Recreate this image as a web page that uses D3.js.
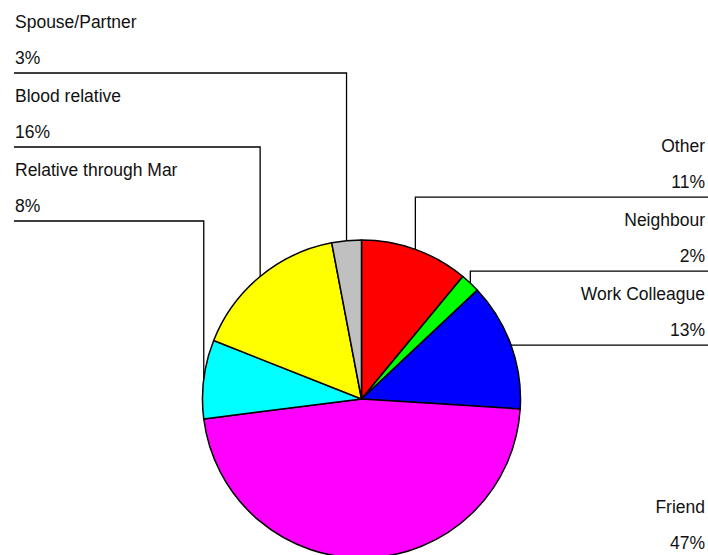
<!DOCTYPE html>
<html>
<head>
<meta charset="utf-8">
<script src="https://cdn.jsdelivr.net/npm/d3@7/dist/d3.min.js"></script>
<style>
  html, body { margin: 0; padding: 0; background: #fff; }
  svg { display: block; }
  text { font-family: "Liberation Sans", Arial, sans-serif; font-size: 17.5px; fill: #111; }
</style>
</head>
<body>
<svg id="chart" width="708" height="555"></svg>
<script>
// Relationship categories, in clockwise order from 12 o'clock
const categories = ["Other", "Neighbour", "Work Colleague", "Friend", "Relative through Mar", "Blood relative", "Spouse/Partner"];
const percentages = [11, 2, 13, 47, 8, 16, 3];
const sliceColors = ["#FF0000", "#00FF00", "#0000FF", "#FF00FF", "#00FFFF", "#FFFF00", "#C0C0C0"];

const W = 708, H = 555;
const cx = 361.5, cy = 399, radius = 159;
const labelGap = 74;      // vertical spacing between stacked label rows
const leftTop = 73;       // first leader line on the left side
const leftX = 14, rightX = 708;

const svg = d3.select("#chart");
const g = svg.append("g").attr("transform", `translate(${cx},${cy})`);

const rows = categories.map((c, i) => ({ name: c, value: percentages[i], color: sliceColors[i] }));

const pie = d3.pie().sort(null).value(d => d.value);
const arcs = pie(rows);
const arc = d3.arc().innerRadius(0).outerRadius(radius);

g.selectAll("path.slice")
  .data(arcs)
  .enter().append("path")
  .attr("class", "slice")
  .attr("d", arc)
  .attr("fill", d => d.data.color)
  .attr("stroke", "#000")
  .attr("stroke-width", 1.5)
  .attr("stroke-linejoin", "round");

// anchor point on the rim at each slice's mid angle (absolute coordinates)
arcs.forEach(a => {
  const m = (a.startAngle + a.endAngle) / 2;
  a.px = cx + radius * Math.sin(m);
  a.py = cy - radius * Math.cos(m);
  a.side = Math.sin(m) >= 0 ? "right" : "left";
});

// right side: stack upward from the lowest label, never below its anchor
const right = arcs.filter(a => a.side === "right").sort((a, b) => b.py - a.py);
let limit = Infinity;
right.forEach(a => {
  a.ly = Math.min(a.py, limit);
  limit = a.ly - labelGap;
});
// left side: stack downward from the top
const left = arcs.filter(a => a.side === "left").sort((a, b) => a.py - b.py);
left.forEach((a, i) => { a.ly = leftTop + i * labelGap; });

const lab = svg.append("g");
arcs.forEach(a => {
  const endX = a.side === "right" ? rightX : leftX;
  lab.append("path")
    .attr("d", `M${a.px},${a.py} L${a.px},${a.ly} L${endX},${a.ly}`)
    .attr("fill", "none")
    .attr("stroke", "#000")
    .attr("stroke-width", 1.3);
  const tx = a.side === "right" ? 705 : 15;
  const anchor = a.side === "right" ? "end" : "start";
  lab.append("text")
    .attr("x", tx).attr("y", a.ly - 45)
    .attr("text-anchor", anchor)
    .text(a.data.name);
  lab.append("text")
    .attr("x", tx).attr("y", a.ly - 9)
    .attr("text-anchor", anchor)
    .text(d3.format(".0%")(a.data.value / 100));
});
</script>
</body>
</html>
